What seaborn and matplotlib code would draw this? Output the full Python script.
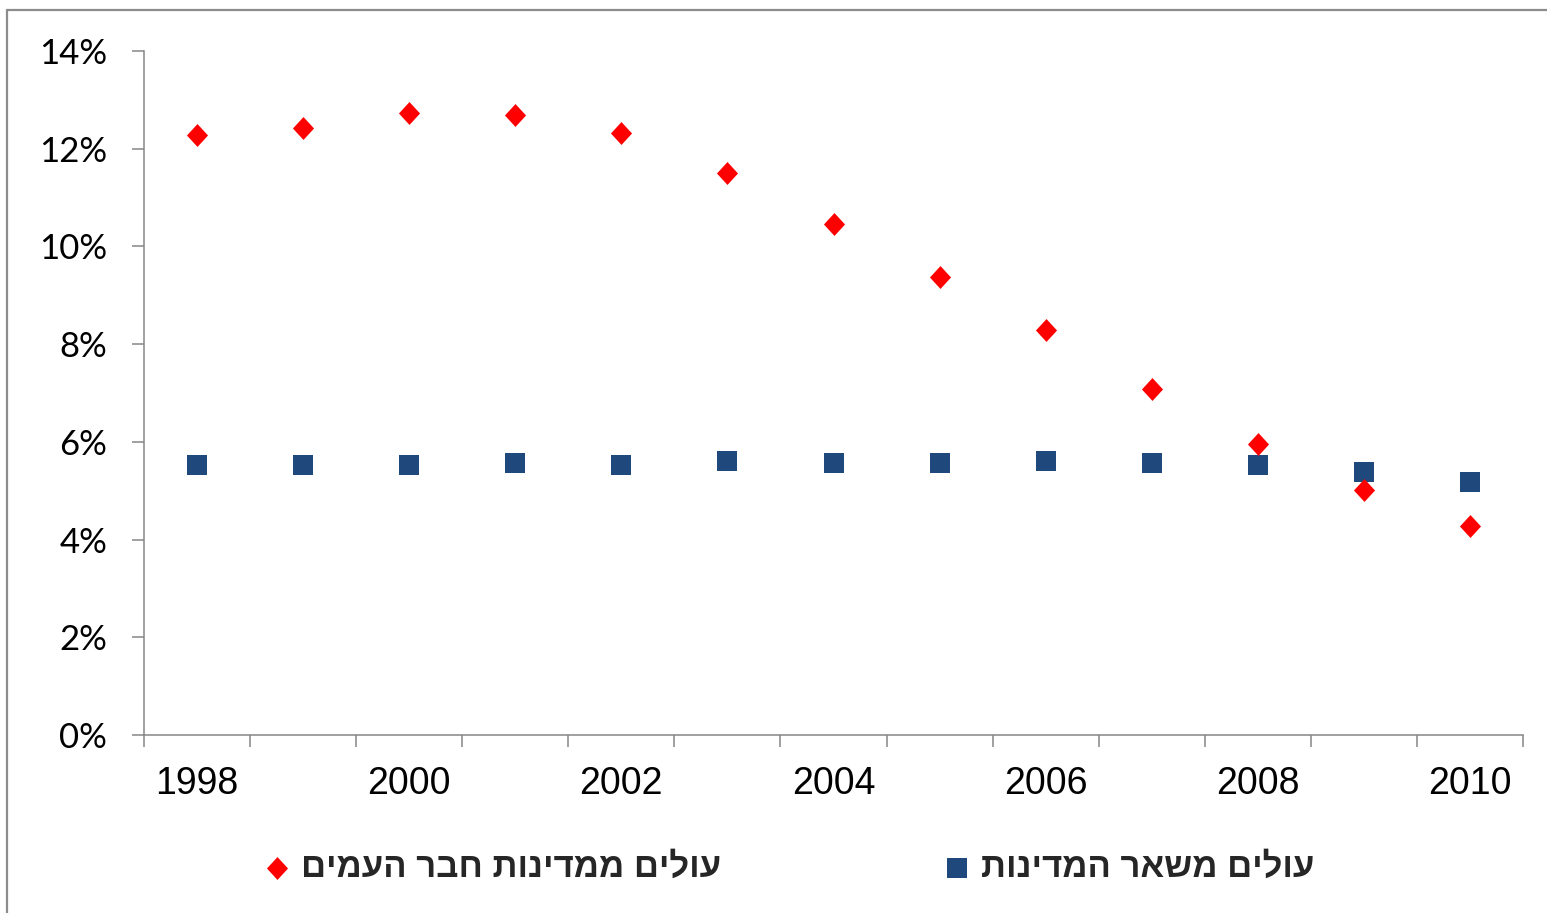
import matplotlib
matplotlib.use('Agg')
import matplotlib.pyplot as plt
from matplotlib.path import Path
from matplotlib.lines import Line2D
from matplotlib.ticker import FixedLocator, FuncFormatter, NullFormatter
import seaborn as sns
import pandas as pd

# data (share of new immigrants, %)
years = list(range(1998, 2011))
fsu_share = [12.28, 12.42, 12.73, 12.69, 12.32, 11.50, 10.46, 9.37, 8.29, 7.08, 5.96, 5.01, 4.28]
other_share = [5.53, 5.53, 5.53, 5.57, 5.53, 5.61, 5.57, 5.57, 5.61, 5.57, 5.53, 5.38, 5.18]
fsu_label = "עולים ממדינות חבר העמים"
other_label = "עולים משאר המדינות"
y_ticks = [0, 2, 4, 6, 8, 10, 12, 14]
x_labels = [1998, 2000, 2002, 2004, 2006, 2008, 2010]

RED = '#FF0000'
BLUE = '#1F497D'
AXIS_GRAY = '#868686'

sns.set_style('white')
plt.rcParams['font.family'] = ['Liberation Sans', 'DejaVu Sans']


def rtl(text):
    """matplotlib has no bidi support, so flip Hebrew for display."""
    return text[::-1]


diamond = Path([(0, 1), (0.92, 0), (0, -1), (-0.92, 0), (0, 1)],
               [Path.MOVETO, Path.LINETO, Path.LINETO, Path.LINETO, Path.CLOSEPOLY])

df = pd.DataFrame({'year': years, 'fsu': fsu_share, 'other': other_share})

W, H = 1547, 913
fig = plt.figure(figsize=(W / 100, H / 100), dpi=100)
ax = fig.add_axes([144 / W, 1 - 735 / H, (1523 - 144) / W, (735 - 51) / H])

sns.scatterplot(data=df, x='year', y='fsu', marker=diamond, s=16.5 ** 2, color=RED,
                linewidth=0, ax=ax, label=rtl(fsu_label), legend=False, zorder=3)
sns.scatterplot(data=df, x='year', y='other', marker='s', s=14.5 ** 2, color=BLUE,
                linewidth=0, ax=ax, label=rtl(other_label), legend=False, zorder=2)

ax.set_xlim(years[0] - 0.5, years[-1] + 0.5)
ax.set_ylim(0, 14)
ax.set_xlabel('')
ax.set_ylabel('')

# tick marks between categories, labels at every other year
ax.xaxis.set_major_locator(FixedLocator([y - 0.5 for y in years] + [years[-1] + 0.5]))
ax.xaxis.set_major_formatter(NullFormatter())
ax.xaxis.set_minor_locator(FixedLocator(x_labels))
ax.xaxis.set_minor_formatter(FuncFormatter(lambda v, p: f'{int(round(v))}'))
ax.tick_params(axis='x', which='major', bottom=True, length=8.6, width=1.1, color=AXIS_GRAY)
ax.tick_params(axis='x', which='minor', bottom=True, length=0, pad=22, labelsize=27,
               labelcolor='black')

ax.yaxis.set_major_locator(FixedLocator(y_ticks))
ax.yaxis.set_major_formatter(FuncFormatter(lambda v, p: f'{v:.0f}%'))
ax.tick_params(axis='y', left=True, length=8.6, width=1.1, color=AXIS_GRAY, pad=18,
               labelsize=25, labelcolor='black')
for lbl in ax.get_yticklabels():
    lbl.set_family(['Lato', 'DejaVu Sans'])

for side in ['top', 'right']:
    ax.spines[side].set_visible(False)
for side in ['left', 'bottom']:
    ax.spines[side].set_color(AXIS_GRAY)
    ax.spines[side].set_linewidth(1.1)

handles = ax.collections[:2]
fig.legend(handles, [rtl(fsu_label), rtl(other_label)], ncol=2, loc='center',
           bbox_to_anchor=(0.511, 0.05), frameon=False, handlelength=0.6,
           handletextpad=0.4, columnspacing=6.5, markerscale=1.0,
           prop={'size': 25, 'weight': 'bold'})

# outer chart frame (only left and top edges visible in the crop)
frame_kw = dict(transform=fig.transFigure, color='#8C8C8C', linewidth=1.6)
fig.add_artist(Line2D([7 / W, 7 / W], [0, 1 - 10 / H], **frame_kw))
fig.add_artist(Line2D([7 / W, 1], [1 - 10 / H, 1 - 10 / H], **frame_kw))

fig.savefig('out.png', dpi=100)
plt.close(fig)
